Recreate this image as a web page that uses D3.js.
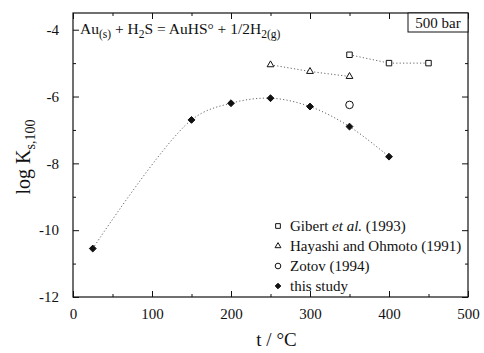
<!DOCTYPE html>
<html><head><meta charset="utf-8">
<script src="https://cdn.jsdelivr.net/npm/d3@7"></script>
<style>
body{margin:0;background:#fff;}
svg text{font-family:"Liberation Serif","Times New Roman",serif !important;fill:#111;}
</style></head>
<body><svg id="c" width="484" height="353"></svg>
<script>
const studyT = [25, 150, 200, 250, 300, 350, 400];
const studyK = [-10.55, -6.7, -6.2, -6.05, -6.3, -6.9, -7.8];
const gibertT = [350, 400, 450];
const gibertK = [-4.75, -5.0, -5.0];
const hayashiT = [250, 300, 350];
const hayashiK = [-5.05, -5.25, -5.4];
const zotovT = [350];
const zotovK = [-6.25];
const xTicks = [0, 100, 200, 300, 400, 500];
const yTicks = [-12, -10, -8, -6, -4];
const legendLabels = ["Gibert et al. (1993)", "Hayashi and Ohmoto (1991)", "Zotov (1994)", "this study"];

(function () {
const svg = d3.select("#c");
const L = 73, R = 468, T = 13, B = 297;
const x = d3.scaleLinear().domain([0, 500]).range([L, R]);
const y = d3.scaleLinear().domain([-12, -3.5]).range([B, T]);
const ink = "#111";
const serif = "Liberation Serif";

svg.append("rect").attr("x", L).attr("y", T).attr("width", R - L).attr("height", B - T)
  .attr("fill", "none").attr("stroke", ink).attr("stroke-width", 1.2);

const fmt = d => String(d);
svg.append("g").attr("class", "ax").attr("transform", `translate(0,${B})`)
  .call(d3.axisBottom(x).tickValues(xTicks).tickSize(-6).tickPadding(11).tickFormat(fmt));
svg.append("g").attr("transform", `translate(0,${T})`)
  .call(d3.axisTop(x).tickValues(xTicks).tickSize(-6).tickFormat(""));
svg.append("g").attr("class", "ax").attr("transform", `translate(${L},0)`)
  .call(d3.axisLeft(y).tickValues(yTicks).tickSize(-6).tickPadding(14).tickFormat(fmt));
svg.append("g").attr("transform", `translate(${R},0)`)
  .call(d3.axisRight(y).tickValues(yTicks).tickSize(-6).tickFormat(""));
const yMinor = d3.range(-11, -3.5, 2);
svg.append("g").attr("transform", `translate(${L},0)`).call(d3.axisLeft(y).tickValues(yMinor).tickSize(-3).tickFormat(""));
svg.append("g").attr("transform", `translate(${R},0)`).call(d3.axisRight(y).tickValues(yMinor).tickSize(-3).tickFormat(""));
const xMinor = d3.range(50, 500, 100);
svg.append("g").attr("transform", `translate(0,${B})`).call(d3.axisBottom(x).tickValues(xMinor).tickSize(-3).tickFormat(""));
svg.append("g").attr("transform", `translate(0,${T})`).call(d3.axisTop(x).tickValues(xMinor).tickSize(-3).tickFormat(""));

svg.selectAll("g").attr("font-family", serif);
svg.selectAll(".domain").remove();
svg.selectAll(".tick line").attr("stroke", ink).attr("stroke-width", 1);
svg.selectAll(".tick text").attr("font-size", 15).style("font-family", serif).attr("fill", ink);

svg.append("text").attr("x", (L + R) / 2 + 6).attr("y", 346).attr("text-anchor", "middle")
  .attr("font-size", 19).text("t / °C");
const yt = svg.append("text").attr("transform", `translate(30,${(T + B) / 2 + 2}) rotate(-90)`)
  .attr("text-anchor", "middle").attr("font-size", 20);
yt.append("tspan").text("log K");
yt.append("tspan").attr("font-size", 14).attr("dy", 5).text("s,100");

const eq = svg.append("text").attr("x", 80).attr("y", 34).attr("font-size", 15.5);
eq.append("tspan").text("Au");
eq.append("tspan").attr("font-size", 11.5).attr("dy", 4).text("(s)");
eq.append("tspan").attr("dy", -4).text(" + H");
eq.append("tspan").attr("font-size", 11.5).attr("dy", 4).text("2");
eq.append("tspan").attr("dy", -4).text("S = AuHS° + 1/2H");
eq.append("tspan").attr("font-size", 11.5).attr("dy", 4).text("2(g)");

svg.append("rect").attr("x", 408).attr("y", T).attr("width", R - 408).attr("height", 19)
  .attr("fill", "#fff").attr("stroke", ink).attr("stroke-width", 1);
svg.append("text").attr("x", (408 + R) / 2).attr("y", 28).attr("text-anchor", "middle")
  .attr("font-size", 15).text("500 bar");

const line = d3.line().x(d => x(d[0])).y(d => y(d[1]));
const dotted = (T_, K_, curve) => svg.append("path")
  .attr("fill", "none").attr("stroke", "#555").attr("stroke-width", 0.9)
  .attr("stroke-dasharray", "1.2,2.2").attr("d", line.curve(curve)(d3.zip(T_, K_)));
dotted(studyT, studyK, d3.curveCatmullRom);
dotted(gibertT, gibertK, d3.curveLinear);
dotted(hayashiT, hayashiK, d3.curveLinear);

const sym = (type, size) => d3.symbol().type(type).size(size);
function marks(T_, K_, type, size, filled) {
  svg.append("g").selectAll("path").data(d3.zip(T_, K_)).join("path")
    .attr("transform", d => `translate(${x(d[0])},${y(d[1])})`)
    .attr("d", sym(type, size)())
    .attr("fill", filled ? ink : "#fff").attr("stroke", ink).attr("stroke-width", 1);
}
const diamond = d3.symbolDiamond2 || d3.symbolDiamond;
marks(gibertT, gibertK, d3.symbolSquare, 30, false);
marks(hayashiT, hayashiK, d3.symbolTriangle, 20, false);
marks(zotovT, zotovK, d3.symbolCircle, 45, false);
marks(studyT, studyK, diamond, 30, true);

const legTypes = [[d3.symbolSquare, 22, false], [d3.symbolTriangle, 15, false], [d3.symbolCircle, 25, false], [diamond, 20, true]];
const lg = svg.append("g");
legendLabels.forEach((lab, i) => {
  const yy = 226 + i * 20;
  lg.append("path").attr("transform", `translate(278,${yy})`).attr("d", sym(legTypes[i][0], legTypes[i][1])())
    .attr("fill", legTypes[i][2] ? ink : "#fff").attr("stroke", ink).attr("stroke-width", 1);
  const t = lg.append("text").attr("x", 290).attr("y", yy + 5).attr("font-size", 15);
  if (i === 0) {
    t.append("tspan").text("Gibert ");
    t.append("tspan").attr("font-style", "italic").text("et al.");
    t.append("tspan").text(" (1993)");
  } else t.text(lab);
});
})();
</script></body></html>
